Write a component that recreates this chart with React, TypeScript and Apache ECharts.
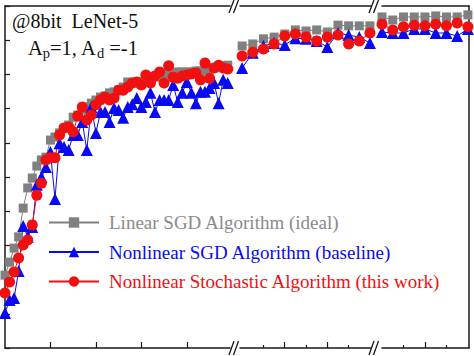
import React, { useEffect, useRef } from "react";
import * as echarts from "echarts";

// Segment 1 (dense early epochs)
const gray1 = [21.3, 25.1, 29.2, 32.5, 40.9, 46.8, 49.7, 53.2, 55.0, 55.8, 60.8, 61.7, 62.9, 64.3, 65.2, 67.5, 68.1, 69.6, 70.5, 71.6, 72.5, 73.4, 73.7, 74.6, 74.9, 75.4, 76.3, 77.8, 77.5, 77.8, 77.8, 78.4, 78.9, 79.2, 79.8, 80.1, 80.4, 80.4, 80.7, 80.7, 80.7, 80.7, 81.0, 81.0, 81.3, 81.6, 81.9, 82.2, 82.5, 82.7];
const blue1 = [10.2, 14.0, 14.6, 22.5, 35.7, 32.5, 35.4, 47.7, 50.0, 52.9, 57.3, 43.6, 59.9, 58.8, 57.9, 62.3, 62.3, 66.1, 57.9, 70.5, 62.9, 69.0, 69.0, 66.1, 70.2, 69.6, 67.3, 70.5, 71.3, 73.1, 70.5, 71.9, 74.6, 69.0, 72.5, 72.5, 72.5, 76.9, 71.9, 74.6, 77.8, 74.6, 71.6, 74.9, 74.9, 76.0, 77.5, 71.6, 78.4, 77.5];
const red1 = [16.1, 19.3, 22.2, 26.3, 30.1, 31.6, 36.0, 44.7, 48.2, 55.0, 55.6, 55.6, 62.3, 64.3, 64.6, 63.2, 67.8, 70.5, 66.7, 68.1, 71.1, 72.5, 73.4, 72.5, 73.1, 75.4, 75.4, 76.3, 77.5, 77.8, 76.9, 79.8, 77.5, 79.5, 80.7, 77.5, 82.5, 79.2, 78.9, 79.5, 79.8, 80.1, 80.4, 78.4, 83.3, 78.9, 81.9, 82.7, 81.9, 81.6];
// Segment 2
const gray2 = [88.3, 88.9, 90.4, 90.9, 91.8, 93.0, 92.7, 93.0, 92.4, 94.4, 94.2, 94.2, 94.2];
const blue2 = [81.9, 86.3, 88.3, 89.2, 88.6, 90.6, 90.4, 89.8, 88.0, 92.1, 91.5, 90.9, 89.2];
const red2 = [85.4, 86.5, 87.4, 88.9, 91.2, 91.8, 90.9, 89.8, 90.9, 91.5, 88.9, 89.8, 92.1];
// Segment 3
const gray3 = [96.8, 95.9, 96.8, 96.8, 96.8, 97.1, 96.8, 96.8, 97.4];
const blue3 = [92.4, 92.1, 92.1, 93.3, 93.3, 92.1, 92.1, 91.2, 93.3];
const red3 = [94.7, 93.0, 93.9, 94.4, 94.2, 94.7, 94.2, 95.0, 93.9];

const names = [
  "Linear SGD Algorithm (ideal)",
  "Nonlinear SGD Algorithm (baseline)",
  "Nonlinear Stochastic Algorithm (this work)",
];
const seg1Ticks = [10, 20, 30, 40];
const seg2Major = [4, 8];
const seg2Minor = [2, 6, 10];
const seg3Major = [4];
const seg3Minor = [2, 6];

const GRAY = "#808080";
const GRAY_TEXT = "#8a8a8a";
const BLUE = "#0a0af0";
const RED = "#f01010";
const AX = "#1a1a1a";
const FONT = "'Liberation Serif', 'Times New Roman', serif";

export default function App() {
  const ref = useRef<HTMLDivElement>(null);
  useEffect(() => {
    document.body.style.margin = "0";
    const chart = echarts.init(ref.current!, null, { renderer: "svg" });
    const toPts = (arr: number[]) => arr.map((v, i) => [i, v]);
    const hiddenLabel = { show: false };
    const lineOnly = (grid: number, pos: string, min: number, max: number) => ({
      gridIndex: grid, type: "value", position: pos, min, max,
      axisLine: { show: true, onZero: false, lineStyle: { color: AX, width: 1.5 } },
      axisTick: { show: false }, axisLabel: hiddenLabel, splitLine: { show: false },
    });
    const tickAxis = (grid: number, min: number, max: number, vals: number[], len: number, line: boolean) => ({
      gridIndex: grid, type: "value", position: "bottom", min, max,
      axisLine: { show: line, onZero: false, lineStyle: { color: AX, width: 1.5 } },
      axisTick: { show: true, inside: true, length: len, customValues: vals, lineStyle: { color: AX, width: 1.2 } },
      axisLabel: hiddenLabel, splitLine: { show: false },
    });
    const mk = (name: string, data: number[], xi: number, yi: number, sym: string, size: number, color: string) => ({
      type: "line", name, data: toPts(data), xAxisIndex: xi, yAxisIndex: yi,
      symbol: sym, symbolSize: size, showSymbol: true,
      itemStyle: { color, opacity: 1 },
      lineStyle: { color, width: 1 },
      clip: false,
    });
    const breakLines: any[] = [];
    [229, 369].forEach((bx) => {
      [0, 4.5].forEach((d) => {
        breakLines.push({ type: "line", shape: { x1: bx + d, y1: 355, x2: bx + d + 5, y2: 341 }, style: { stroke: AX, lineWidth: 1.3 }, z: 100 });
        breakLines.push({ type: "line", shape: { x1: bx + d, y1: 13, x2: bx + d + 5, y2: 0 }, style: { stroke: AX, lineWidth: 1.3 }, z: 100 });
      });
    });
    const legendText = (color: string) => ({
      color, fontFamily: FONT, fontSize: 19, padding: [0, 0, 0, 5],
    });
    const option: any = {
      animation: false,
      textStyle: { fontFamily: FONT },
      grid: [
        { left: 5, top: 6, width: 225, height: 342 },
        { left: 240, top: 6, width: 131, height: 342 },
        { left: 382, top: 6, width: 87, height: 342 },
      ],
      xAxis: [
        tickAxis(0, 0, 49.5, seg1Ticks, 6, true),
        lineOnly(0, "top", 0, 49.5),
        tickAxis(1, -0.2, 12.1, seg2Major, 6, true),
        tickAxis(1, -0.2, 12.1, seg2Minor, 3, false),
        lineOnly(1, "top", -0.2, 12.1),
        tickAxis(2, 0, 8.1, seg3Major, 6, true),
        tickAxis(2, 0, 8.1, seg3Minor, 3, false),
        lineOnly(2, "top", 0, 8.1),
      ],
      yAxis: [
        {
          gridIndex: 0, type: "value", position: "left", min: 0, max: 100, interval: 10,
          axisLine: { show: true, onZero: false, lineStyle: { color: AX, width: 1.5 } },
          axisTick: { show: true, inside: true, length: 5, lineStyle: { color: AX, width: 1.2 } },
          axisLabel: hiddenLabel, splitLine: { show: false },
        },
        { gridIndex: 1, type: "value", min: 0, max: 100, show: false },
        {
          gridIndex: 2, type: "value", position: "right", min: 0, max: 100,
          axisLine: { show: true, onZero: false, lineStyle: { color: AX, width: 1.5 } },
          axisTick: { show: false }, axisLabel: hiddenLabel, splitLine: { show: false },
        },
      ],
      legend: {
        orient: "vertical", left: 43, top: 208, itemWidth: 50, itemHeight: 13, itemGap: 10.5,
        textStyle: legendText(GRAY_TEXT),
        data: [
          { name: names[0], textStyle: legendText(GRAY_TEXT) },
          { name: names[1], textStyle: legendText(BLUE) },
          { name: names[2], textStyle: legendText(RED) },
        ],
      },
      series: [
        mk(names[0], gray1, 0, 0, "rect", 9, GRAY),
        mk(names[1], blue1, 0, 0, "triangle", 12, BLUE),
        mk(names[2], red1, 0, 0, "circle", 11, RED),
        mk(names[0], gray2, 2, 1, "rect", 9, GRAY),
        mk(names[1], blue2, 2, 1, "triangle", 12, BLUE),
        mk(names[2], red2, 2, 1, "circle", 11, RED),
        mk(names[0], gray3, 5, 2, "rect", 9, GRAY),
        mk(names[1], blue3, 5, 2, "triangle", 12, BLUE),
        mk(names[2], red3, 5, 2, "circle", 11, RED),
      ],
      graphic: [
        ...breakLines,
        { type: "text", left: 12, top: 11, style: { text: "@8bit  LeNet-5", font: `20px ${FONT}`, fill: "#111" }, z: 100 },
        {
          type: "text", left: 28, top: 37, z: 100,
          style: {
            text: "A{s|p}=1, A{s|d} =-1",
            font: `20.5px ${FONT}`, fill: "#111",
            rich: { s: { fontSize: 14.5, fontFamily: FONT, fill: "#111", padding: [10, 0, 0, 0] } },
          },
        },
      ],
    };
    chart.setOption(option);
    return () => chart.dispose();
  }, []);
  return <div ref={ref} style={{ position: "fixed", left: 0, top: 0, width: 474, height: 356, background: "#fff" }} />;
}
